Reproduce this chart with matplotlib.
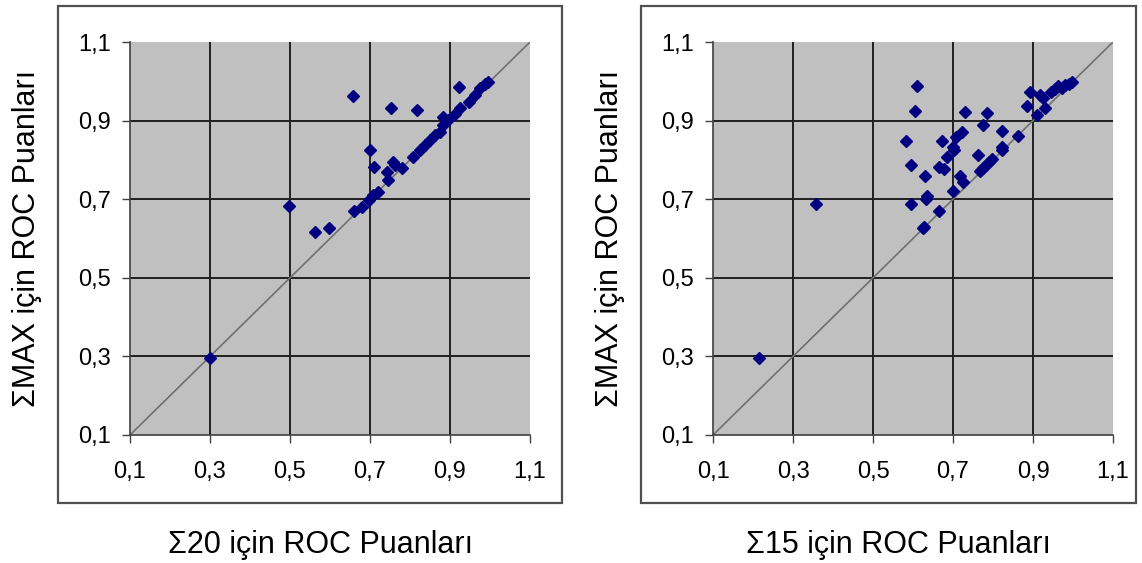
import matplotlib
matplotlib.use("Agg")
import matplotlib.pyplot as plt
from matplotlib.patches import Rectangle
from matplotlib.ticker import FuncFormatter

# ROC scores: sum-of-20 vs sum-of-max
s20_x = [0.300, 0.497, 0.563, 0.598, 0.657, 0.660, 0.679, 0.697, 0.708, 0.719,
         0.699, 0.710, 0.742, 0.746, 0.753, 0.758, 0.762, 0.779, 0.808, 0.817,
         0.825, 0.838, 0.850, 0.862, 0.875, 0.882, 0.883, 0.896, 0.912, 0.925,
         0.923, 0.948, 0.962, 0.975, 0.987, 0.996]
s20_y = [0.297, 0.683, 0.617, 0.626, 0.963, 0.671, 0.681, 0.698, 0.711, 0.719,
         0.825, 0.781, 0.770, 0.749, 0.933, 0.795, 0.787, 0.779, 0.808, 0.927,
         0.825, 0.838, 0.850, 0.863, 0.872, 0.910, 0.889, 0.902, 0.918, 0.931,
         0.986, 0.948, 0.965, 0.982, 0.992, 0.998]

# ROC scores: sum-of-15 vs sum-of-max
s15_x = [0.215, 0.358, 0.583, 0.594, 0.594, 0.606, 0.609, 0.624, 0.628, 0.629,
         0.633, 0.636, 0.664, 0.666, 0.672, 0.678, 0.684, 0.699, 0.700, 0.702,
         0.707, 0.718, 0.722, 0.726, 0.730, 0.762, 0.768, 0.775, 0.782, 0.790,
         0.798, 0.774, 0.785, 0.823, 0.823, 0.823, 0.862, 0.886, 0.892, 0.909,
         0.918, 0.925, 0.930, 0.945, 0.955, 0.962, 0.972, 0.980, 0.990, 0.997]
s15_y = [0.297, 0.687, 0.847, 0.786, 0.687, 0.925, 0.989, 0.626, 0.630, 0.759,
         0.700, 0.708, 0.781, 0.671, 0.847, 0.777, 0.808, 0.720, 0.832, 0.825,
         0.857, 0.760, 0.872, 0.745, 0.923, 0.812, 0.772, 0.780, 0.787, 0.795,
         0.802, 0.889, 0.919, 0.832, 0.825, 0.874, 0.861, 0.937, 0.973, 0.914,
         0.965, 0.957, 0.931, 0.972, 0.980, 0.988, 0.982, 0.990, 0.992, 0.997]

ticks = [0.1, 0.3, 0.5, 0.7, 0.9, 1.1]
x_labels = ["Σ20 için ROC Puanları", "Σ15 için ROC Puanları"]
y_label = "ΣMAX için ROC Puanları"

W, H = 1142, 563
fig = plt.figure(figsize=(W / 100, H / 100), dpi=100)
fig.patch.set_facecolor("white")


def fx(px):
    return px / W


def fy(py):
    return 1 - py / H


comma = FuncFormatter(lambda v, p: f"{v:.1f}".replace(".", ","))

panels = [
    dict(x=s20_x, y=s20_y, box=(58, 562), ax_left=130, ylab_x=27, xlab=x_labels[0]),
    dict(x=s15_x, y=s15_y, box=(641, 1136), ax_left=713, ylab_x=610, xlab=x_labels[1]),
]

for p in panels:
    b0, b1 = p["box"]
    fig.patches.append(Rectangle((fx(b0), fy(503)), fx(b1 - b0), (503 - 6) / H,
                                 transform=fig.transFigure, fill=False,
                                 edgecolor="#505050", linewidth=1.6))
    ax = fig.add_axes([fx(p["ax_left"]), fy(435), 400 / W, 393 / H])
    ax.set_facecolor("#C0C0C0")
    ax.set_xlim(0.1, 1.1)
    ax.set_ylim(0.1, 1.1)
    ax.set_xticks(ticks)
    ax.set_yticks(ticks)
    ax.xaxis.set_major_formatter(comma)
    ax.yaxis.set_major_formatter(comma)
    for t in ticks[1:-1]:
        ax.axvline(t, color="#202020", lw=1.4, zorder=1)
        ax.axhline(t, color="#202020", lw=1.4, zorder=1)
    ax.plot([0.1, 1.1], [0.1, 1.1], color="#707070", lw=1.2, zorder=2)
    ax.plot(p["x"], p["y"], linestyle="none", marker="D", ms=6,
            color="#000080", mec="#000080", zorder=3, clip_on=False)
    for s in ("top", "right"):
        ax.spines[s].set_visible(False)
    for s in ("left", "bottom"):
        ax.spines[s].set_color("#404040")
        ax.spines[s].set_linewidth(1.2)
    ax.tick_params(direction="out", length=6, width=1, color="#404040",
                   labelsize=17, labelcolor="black")
    ax.tick_params(axis="x", pad=13)
    ax.tick_params(axis="y", pad=8)
    for lbl in ax.get_xticklabels() + ax.get_yticklabels():
        lbl.set_family("Liberation Sans")
    fig.text(fx((b0 + b1) / 2 + 10), fy(545), p["xlab"], ha="center", va="center",
             fontsize=22, family="Liberation Sans")
    fig.text(fx(p["ylab_x"]), fy(238), y_label, ha="center", va="center",
             rotation=90, fontsize=22, family="Liberation Sans")

fig.savefig("out.png", dpi=100)
